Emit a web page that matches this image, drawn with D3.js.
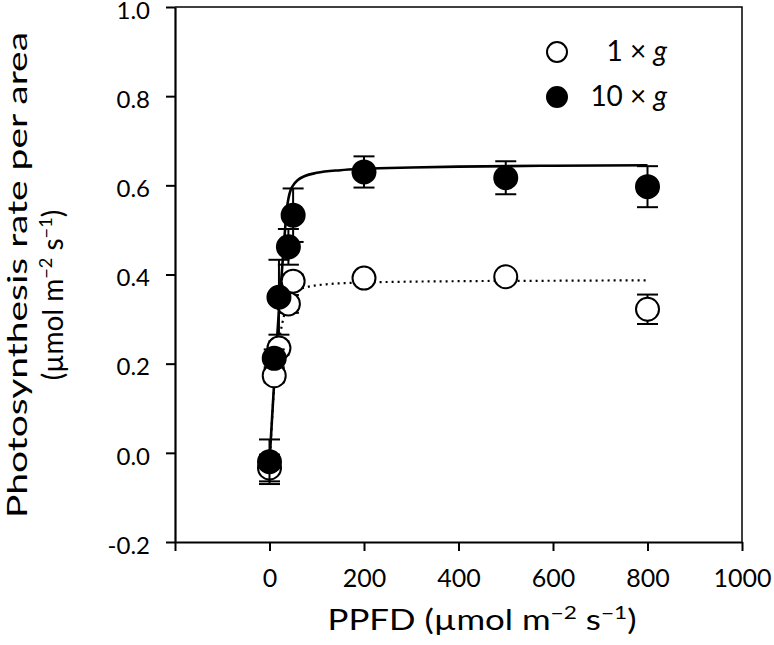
<!DOCTYPE html>
<html>
<head>
<meta charset="utf-8">
<script src="https://cdn.jsdelivr.net/npm/d3@7"></script>
<style>
  html, body { margin: 0; padding: 0; background: #fff; }
  svg { display: block; }
  text { font-family: Lato, "Open Sans", sans-serif; fill: #000; }
</style>
</head>
<body>
<svg id="chart" width="774" height="645"></svg>
<script>
// ---- data ----
const ppfd = [0, 10, 20, 40, 50, 200, 500, 800];
const rate1g = [-0.034, 0.173, 0.235, 0.334, 0.385, 0.392, 0.395, 0.322];
const err1g = [0.03, 0.015, 0.015, 0.02, 0.015, 0.012, 0.012, 0.033];
const rate10g = [-0.02, 0.212, 0.349, 0.462, 0.533, 0.630, 0.617, 0.597];
const err10g = [0.05, 0.02, 0.084, 0.04, 0.06, 0.035, 0.037, 0.046];

// fitted light-response curves
const fitPpfd1g = [0, 10, 20, 27, 35, 45, 60, 80, 120, 200, 400, 600, 800];
const fit1g = [-0.03, 0.15, 0.25, 0.29, 0.325, 0.35, 0.365, 0.372, 0.378, 0.382, 0.385, 0.386, 0.387];
const fitPpfd10g = [0, 5, 10, 20, 30, 37, 40, 45, 50, 60, 75, 100, 150, 200, 300, 400, 600, 800];
const fit10g = [-0.02, 0.07, 0.16, 0.32, 0.46, 0.55, 0.57, 0.59, 0.60, 0.612, 0.621, 0.628, 0.634, 0.637, 0.640, 0.642, 0.644, 0.645];

const xTicks = [-200, 0, 200, 400, 600, 800, 1000];
const xTickLabels = ["", "0", "200", "400", "600", "800", "1000"];
const yTicks = [-0.2, 0.0, 0.2, 0.4, 0.6, 0.8, 1.0];
const yTickLabels = ["-0.2", "0.0", "0.2", "0.4", "0.6", "0.8", "1.0"];
const legendLabels = ["1", "10"];

// ---- layout ----
const L = 175, R = 742, T = 7, B = 542;
const svg = d3.select("#chart");
const x = d3.scaleLinear().domain([-200, 1000]).range([L, R]);
const y = d3.scaleLinear().domain([-0.2, 1.0]).range([B, T]);

// frame (top & right)
svg.append("path")
  .attr("d", `M${L},${T}H${R}V${B}`)
  .attr("fill", "none").attr("stroke", "#000").attr("stroke-width", 1.5);

// axes
const xAxis = d3.axisBottom(x).tickValues(xTicks)
  .tickFormat((d, i) => xTickLabels[i]).tickSize(9).tickSizeOuter(0).tickPadding(18);
const gx = svg.append("g").attr("transform", `translate(0,${B})`).call(xAxis);
const yAxis = d3.axisLeft(y).tickValues(yTicks)
  .tickFormat((d, i) => yTickLabels[i]).tickSize(9).tickSizeOuter(0).tickPadding(16);
const gy = svg.append("g").attr("transform", `translate(${L},0)`).call(yAxis);
[gx, gy].forEach(g => {
  g.select(".domain").attr("stroke-width", 2.2);
  g.selectAll(".tick line").attr("stroke-width", 2);
  g.selectAll(".tick text").style("font-family", "Lato, sans-serif").style("font-size", "25px").attr("fill", "#000");
});
gy.selectAll(".tick text").style("font-size", "24px").attr("dy", "0.47em");

// fitted curves
const line = d3.line().curve(d3.curveMonotoneX);
svg.append("path")
  .attr("d", line(fitPpfd1g.map((p, i) => [x(p), y(fit1g[i])])))
  .attr("fill", "none").attr("stroke", "#000").attr("stroke-width", 2.2)
  .attr("stroke-dasharray", "2,4").attr("stroke-linecap", "butt");
svg.append("path")
  .attr("d", line(fitPpfd10g.map((p, i) => [x(p), y(fit10g[i])])))
  .attr("fill", "none").attr("stroke", "#000").attr("stroke-width", 2.6);

// error bars + markers
const capW = 10.5, r = 11.5;
function drawSeries(vals, errs, filled, cls) {
  const g = svg.append("g").attr("class", cls);
  ppfd.forEach((p, i) => {
    const cx = x(p), v = vals[i], e = errs[i];
    g.append("line").attr("x1", cx).attr("x2", cx).attr("y1", y(v - e)).attr("y2", y(v + e))
      .attr("stroke", "#000").attr("stroke-width", 2);
    [v - e, v + e].forEach(t => g.append("line")
      .attr("x1", cx - capW).attr("x2", cx + capW).attr("y1", y(t)).attr("y2", y(t))
      .attr("stroke", "#000").attr("stroke-width", 2));
  });
  g.selectAll("circle").data(ppfd).join("circle")
    .attr("cx", d => x(d)).attr("cy", (d, i) => y(vals[i])).attr("r", r)
    .attr("fill", filled ? "#000" : "#fff").attr("stroke", "#000").attr("stroke-width", 2);
}
drawSeries(rate1g, err1g, false, "s1");
drawSeries(rate10g, err10g, true, "s10");

// legend
const leg = svg.append("g");
[[false, 52], [true, 97]].forEach(([filled, cy], i) => {
  leg.append("circle").attr("cx", 557).attr("cy", cy).attr("r", 10)
    .attr("fill", filled ? "#000" : "#fff").attr("stroke", "#000").attr("stroke-width", 2);
  const t = leg.append("text").attr("x", 667).attr("y", cy + 9).attr("text-anchor", "end")
    .style("font-size", "28px");
  t.append("tspan").text(legendLabels[i] + " \u00d7 ");
  t.append("tspan").style("font-style", "italic").text("g");
});

// axis titles
function unitTspans(t, prefix) {
  t.append("tspan").text(prefix + "(\u00b5mol m");
  t.append("tspan").attr("baseline-shift", "super").style("font-size", "0.65em").text("\u22122");
  t.append("tspan").text(" s");
  t.append("tspan").attr("baseline-shift", "super").style("font-size", "0.65em").text("\u22121");
  t.append("tspan").text(")");
}
const xt = svg.append("text").attr("x", 482).attr("y", 630).attr("text-anchor", "middle")
  .style("font-size", "28px").attr("textLength", 309).attr("lengthAdjust", "spacingAndGlyphs");
unitTspans(xt, "PPFD ");

svg.append("text").attr("transform", "translate(27,275) rotate(-90)").attr("text-anchor", "middle")
  .style("font-size", "27px").attr("textLength", 486).attr("lengthAdjust", "spacingAndGlyphs")
  .text("Photosynthesis rate per area");
const yt2 = svg.append("text").attr("transform", "translate(63,295) rotate(-90)").attr("text-anchor", "middle")
  .style("font-size", "28px");
unitTspans(yt2, "");
</script>
</body>
</html>
